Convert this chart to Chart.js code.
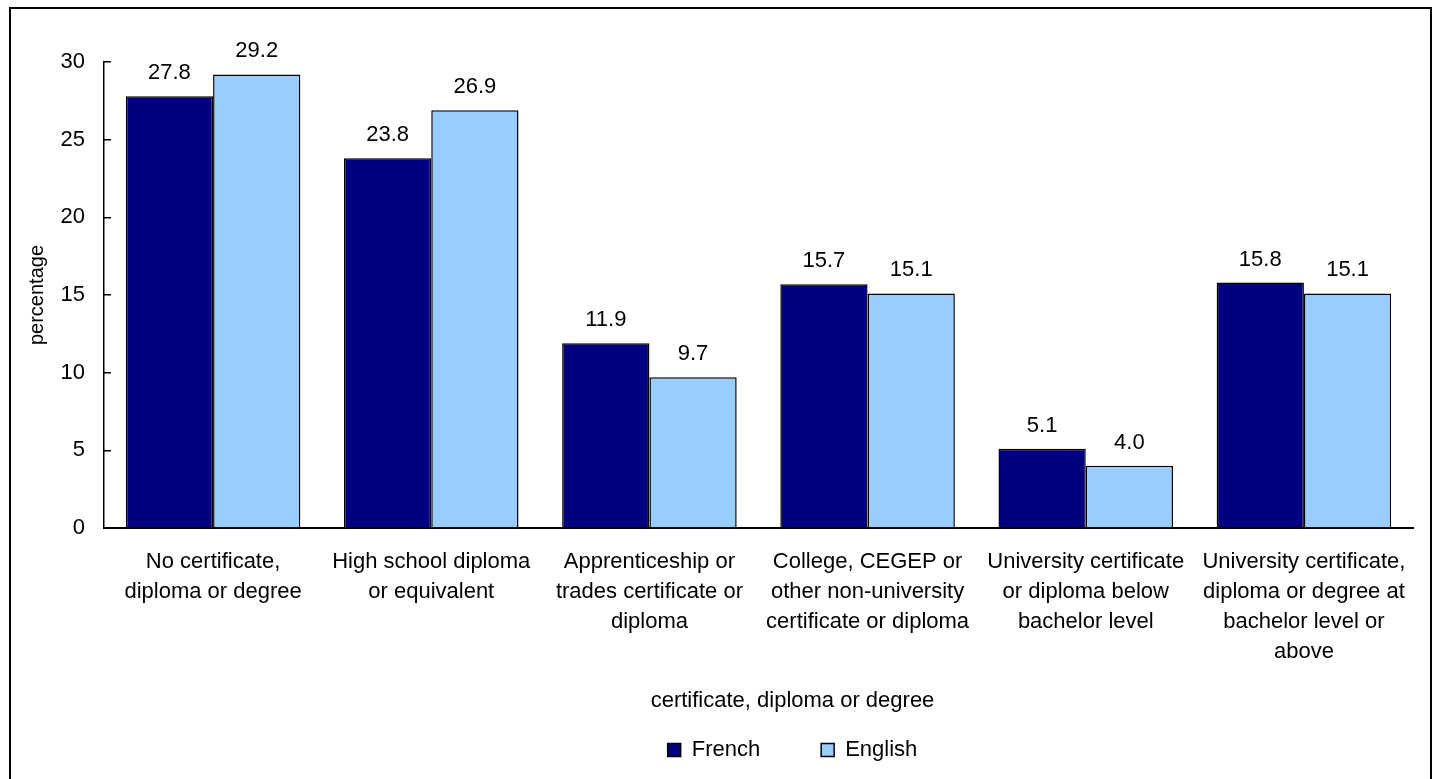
<!DOCTYPE html>
<html>
<head>
<meta charset="utf-8">
<title>Certificate, diploma or degree by first official language</title>
<script src="https://cdn.jsdelivr.net/npm/chart.js@4.4.0/dist/chart.umd.min.js"></script>
<style>
  html, body { margin: 0; padding: 0; background: #fff; overflow: hidden; }
  #wrap { position: relative; width: 1435px; height: 779px; }
  #chart { display: block; }
  #frame {
    position: absolute; left: 9px; top: 7px; width: 1423px; height: 800px;
    border: 2px solid #000; box-sizing: border-box; pointer-events: none;
  }
</style>
</head>
<body>
<div id="wrap">
  <canvas id="chart" width="1435" height="779"></canvas>
  <div id="frame"></div>
</div>
<script>
// Highest certificate, diploma or degree, French vs English (percentage)
const categories = [
    ['No certificate,', 'diploma or degree'],
    ['High school diploma', 'or equivalent'],
    ['Apprenticeship or', 'trades certificate or', 'diploma'],
    ['College, CEGEP or', 'other non-university', 'certificate or diploma'],
    ['University certificate', 'or diploma below', 'bachelor level'],
    ['University certificate,', 'diploma or degree at', 'bachelor level or', 'above']
];
const french = [27.8, 23.8, 11.9, 15.7, 5.1, 15.8];
const english = [29.2, 26.9, 9.7, 15.1, 4.0, 15.1];
const yTicks = [0, 5, 10, 15, 20, 25, 30];

const FONT = '"Liberation Sans", Arial, sans-serif';
Chart.defaults.font.family = FONT;
Chart.defaults.color = '#000';

// value printed above each bar
const barValues = {
    id: 'barValues',
    afterDatasetsDraw(chart) {
        const ctx = chart.ctx;
        ctx.save();
        ctx.font = '22px ' + FONT;
        ctx.fillStyle = '#000';
        ctx.textAlign = 'center';
        ctx.textBaseline = 'alphabetic';
        chart.data.datasets.forEach((ds, i) => {
            chart.getDatasetMeta(i).data.forEach((bar, j) => {
                ctx.fillText(ds.data[j].toFixed(1), bar.x, bar.y - 17);
            });
        });
        ctx.restore();
    }
};

// caption + legend sit a little right of the canvas centre
const footer = {
    id: 'footer',
    afterLayout(chart) {
        const dx = 86;
        const cap = chart.titleBlock, leg = chart.legend;
        cap.left += dx; cap.right += dx;
        leg.left += dx; leg.right += dx;
        // labels.padding is meant as the gap between items, not above them
        leg.top -= leg.options.labels.padding;
    }
};

new Chart(document.getElementById('chart'), {
    type: 'bar',
    data: {
        labels: categories,
        datasets: [{
            label: 'French',
            data: french,
            backgroundColor: '#000080',
            borderColor: '#000',
            borderWidth: 1.5
        }, {
            label: 'English',
            data: english,
            backgroundColor: '#99CCFF',
            borderColor: '#000',
            borderWidth: 1.5
        }]
    },
    options: {
        responsive: false,
        animation: false,
        events: [],
        categoryPercentage: 0.8,
        barPercentage: 1.0,
        layout: { padding: { top: 62, right: 22, bottom: 0, left: 0 } },
        scales: {
            x: {
                grid: { display: false, drawTicks: false },
                border: { color: '#000', width: 2 },
                ticks: {
                    autoSkip: false, maxRotation: 0, padding: 19,
                    font: { size: 22, lineHeight: 1.364 }, color: '#000'
                },
                afterFit(scale) { scale.height = 150; }
            },
            y: {
                min: yTicks[0],
                max: yTicks[yTicks.length - 1],
                ticks: {
                    stepSize: yTicks[1] - yTicks[0], padding: 26,
                    font: { size: 22 }, color: '#000'
                },
                grid: { drawOnChartArea: false, drawTicks: true, tickLength: -7, color: '#000', lineWidth: 1.5 },
                border: { color: '#000', width: 1.5 },
                title: {
                    display: true, text: 'percentage', color: '#000',
                    font: { size: 20 }, padding: { top: 25, bottom: 0 }
                },
                afterFit(scale) { scale.width = 104; }
            }
        },
        plugins: {
            legend: {
                position: 'bottom',
                maxHeight: 40,
                labels: {
                    boxWidth: 13, boxHeight: 13, padding: 61,
                    font: { size: 22 }, color: '#000'
                }
            },
            title: {
                display: true,
                text: 'certificate, diploma or degree',
                position: 'bottom',
                weight: 500,
                color: '#000',
                font: { size: 22, weight: 'normal' },
                padding: { top: 10, bottom: 24.6 }
            },
            tooltip: { enabled: false }
        }
    },
    plugins: [barValues, footer]
});
</script>
</body>
</html>
